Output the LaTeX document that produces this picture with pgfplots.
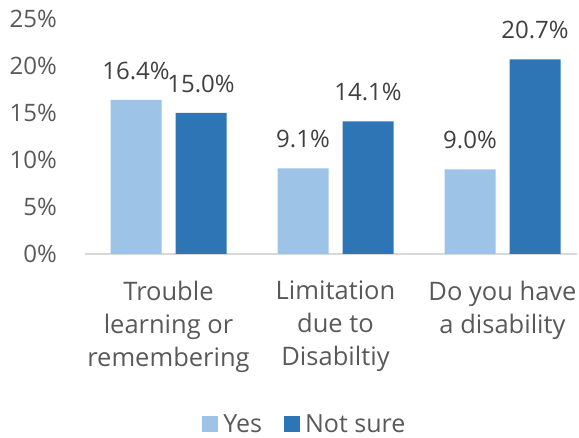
\documentclass[border=0pt]{standalone}
\usepackage{pgfplots}
\pgfplotsset{compat=1.18}
\usepackage{fontspec}
\setmainfont{Open Sans}
\definecolor{yesc}{HTML}{9DC3E6}
\definecolor{notc}{HTML}{2E75B6}
\definecolor{tickc}{HTML}{595959}
\definecolor{labc}{HTML}{404040}
\definecolor{basec}{HTML}{D9D9D9}
\begin{document}
\begin{tikzpicture}
\path[use as bounding box] (-85pt,-184pt) rectangle (494pt,254pt);
\begin{axis}[
  at={(0,0)}, anchor=south west,
  scale only axis,
  width=492pt, height=235pt,
  ybar=14pt, bar width=51pt,
  xmin=-0.5, xmax=2.446,
  ymin=0, ymax=25,
  axis line style={draw=none},
  major tick length=0pt,
  xtick={0,1,2},
  xticklabels={Trouble\\learning or\\remembering, Limitation\\due to\\Disabiltiy, Do you have\\a disability},
  xticklabel style={align=center, font=\fontsize{25.5}{33}\selectfont, text=tickc, anchor=north, inner sep=0pt, yshift=-27pt},
  ytick={0,5,10,15,20,25},
  yticklabels={0\%,5\%,10\%,15\%,20\%,25\%},
  yticklabel style={font=\fontsize{24}{28}\selectfont, text=tickc, anchor=east, inner sep=0pt, xshift=-28pt},
  extra y ticks={0},
  extra y tick labels={},
  extra y tick style={grid=major, major grid style={draw=basec, line width=1.2pt}},
  /pgf/number format/assume math mode=true,
  nodes near coords={\pgfmathprintnumber[fixed,fixed zerofill,precision=1]{\pgfplotspointmeta}\%},
  every node near coord/.append style={font=\fontsize{24}{28}\selectfont, text=labc, anchor=south, inner sep=0pt, yshift=20pt},
  legend style={at={(0.45,-0.723)}, anchor=center, draw=none, fill=none,
    legend columns=2, font=\fontsize{25}{29}\selectfont, text=tickc,
    nodes={inner ysep=3pt, inner xsep=5pt},
    /tikz/every even column/.append style={column sep=17pt},
    legend cell align=left},
  legend image code/.code={\fill[#1] (0pt,-8pt) rectangle (16pt,8pt);},
]
\addplot[fill=yesc, draw=none] coordinates {(0,16.4) (1,9.1) (2,9.0)};
\addplot[fill=notc, draw=none] coordinates {(0,15.0) (1,14.1) (2,20.7)};
\legend{Yes, Not sure}
\end{axis}
\end{tikzpicture}
\end{document}
